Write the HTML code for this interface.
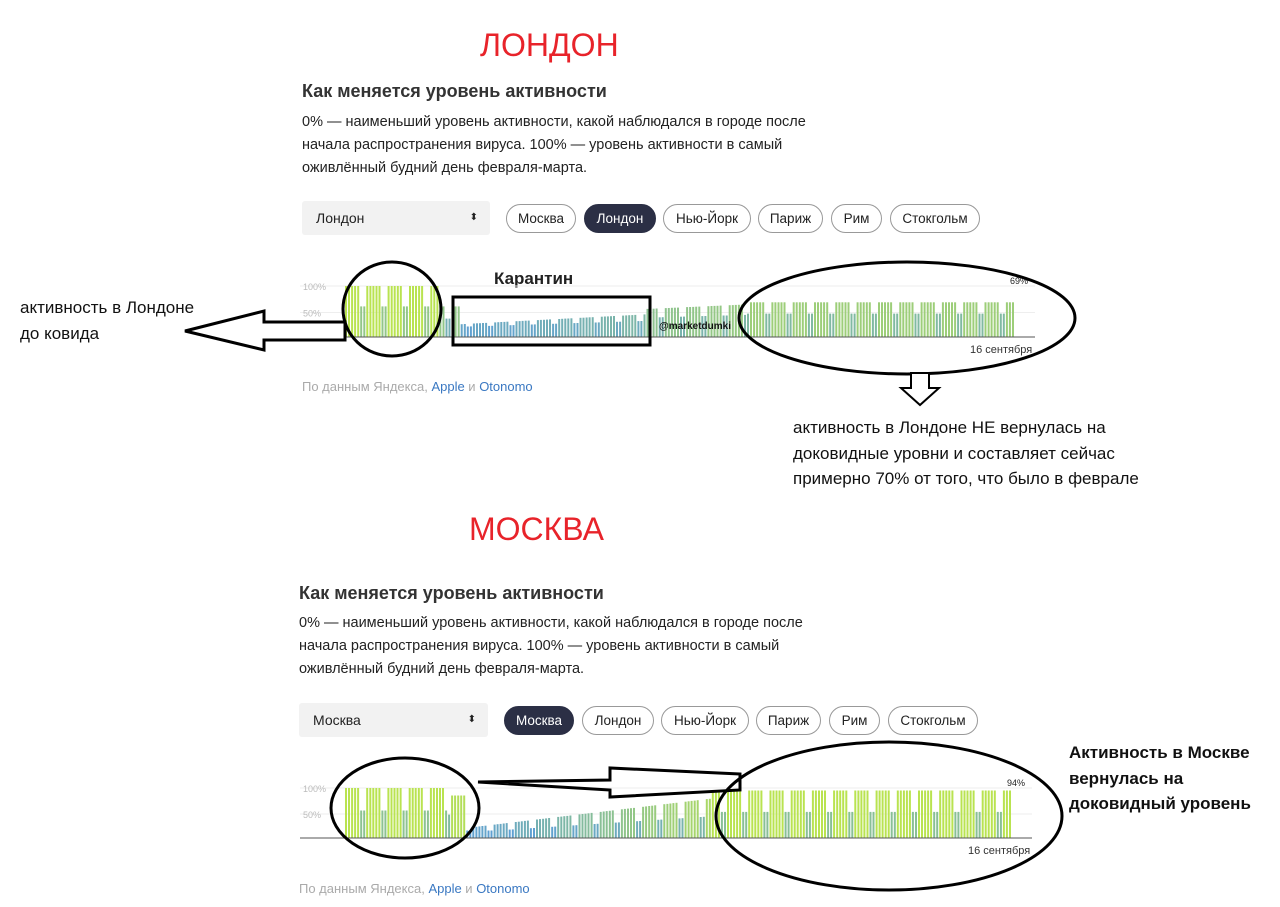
<!DOCTYPE html>
<html><head><meta charset="utf-8"><style>
body{margin:0;width:1280px;height:907px;background:#fff;position:relative;overflow:hidden;font-family:"Liberation Sans","Noto Sans CJK SC",sans-serif;color:#222}
.a{position:absolute;white-space:nowrap}
.red{color:#e8232a;font-size:32px}
.h{font-size:18px;font-weight:bold;color:#333}
.p{font-size:14.5px;line-height:23px;color:#222}
.sel{position:absolute;background:#f2f2f2;border-radius:3px;font-size:14px;padding-left:14px;box-sizing:border-box;line-height:34px}
.pill{position:absolute;border:1px solid #999;border-radius:15px;font-size:13.5px;text-align:center;line-height:27px;box-sizing:border-box;height:29px}
.dk{background:#2b2f45;color:#fff;border-color:#2b2f45}
.note{font-size:17px;line-height:25.5px;color:#111}
.src{font-size:13px;color:#aaa}.src b{font-weight:normal;color:#3a78c2}
</style></head><body>
<div class="a red" style="left:480px;top:27px">ЛОНДОН</div>
<div class="a h" style="left:302px;top:81px">Как меняется уровень активности</div>
<div class="a p" style="left:302px;top:111px">0% — наименьший уровень активности, какой наблюдался в городе после<br>начала распространения вируса. 100% — уровень активности в самый<br>оживлённый будний день февраля-марта.</div>
<div class="sel" style="left:302px;top:201px;width:188px;height:34px">Лондон<span style="position:absolute;right:12px;font-size:10px">⬍</span></div>
<div class="pill" style="left:506px;top:204px;width:70px">Москва</div>
<div class="pill dk" style="left:584px;top:204px;width:72px">Лондон</div>
<div class="pill" style="left:663px;top:204px;width:88px">Нью-Йорк</div>
<div class="pill" style="left:758px;top:204px;width:65px">Париж</div>
<div class="pill" style="left:831px;top:204px;width:51px">Рим</div>
<div class="pill" style="left:890px;top:204px;width:90px">Стокгольм</div>
<div class="a src" style="left:302px;top:379px">По данным Яндекса, <b>Apple</b> и <b>Otonomo</b></div>

<div class="a red" style="left:469px;top:511px">МОСКВА</div>
<div class="a h" style="left:299px;top:583px">Как меняется уровень активности</div>
<div class="a p" style="left:299px;top:612px">0% — наименьший уровень активности, какой наблюдался в городе после<br>начала распространения вируса. 100% — уровень активности в самый<br>оживлённый будний день февраля-марта.</div>
<div class="sel" style="left:299px;top:703px;width:189px;height:34px">Москва<span style="position:absolute;right:12px;font-size:10px">⬍</span></div>
<div class="pill dk" style="left:504px;top:706px;width:70px">Москва</div>
<div class="pill" style="left:582px;top:706px;width:72px">Лондон</div>
<div class="pill" style="left:661px;top:706px;width:88px">Нью-Йорк</div>
<div class="pill" style="left:756px;top:706px;width:65px">Париж</div>
<div class="pill" style="left:829px;top:706px;width:51px">Рим</div>
<div class="pill" style="left:888px;top:706px;width:90px">Стокгольм</div>
<div class="a src" style="left:299px;top:881px">По данным Яндекса, <b>Apple</b> и <b>Otonomo</b></div>

<div class="a note" style="left:20px;top:295px">активность в Лондоне<br>до ковида</div>
<div class="a note" style="left:793px;top:415px">активность в Лондоне НЕ вернулась на<br>доковидные уровни и составляет сейчас<br>примерно 70% от того, что было в феврале</div>
<div class="a note" style="left:1069px;top:740px;font-weight:bold">Активность в Москве<br>вернулась на<br>доковидный уровень</div>
<div class="a" style="left:494px;top:269px;font-size:17px;font-weight:bold">Карантин</div>

<svg id="s" width="1280" height="907" style="position:absolute;left:0;top:0"></svg>
<script>
var s=document.getElementById('s'),h='';
function lerp(a,b,t){return Math.round(a+(b-a)*t)}
function col(v){var t=Math.max(0,Math.min(1,(v-0.2)/0.7));return 'rgb('+lerp(95,185,t)+','+lerp(160,227,t)+','+lerp(210,80,t)+')'}
function chart(x0,base,x1,fn,label,lx,y100){
 h+='<line x1="'+(x0-45)+'" y1="'+y100+'" x2="'+(x1+20)+'" y2="'+y100+'" stroke="#eee"/>';
 h+='<line x1="'+(x0-45)+'" y1="'+((base+y100)/2+1)+'" x2="'+(x1+20)+'" y2="'+((base+y100)/2+1)+'" stroke="#eee"/>';
 h+='<text x="'+(x0-42)+'" y="'+(y100+4)+'" font-size="9" fill="#bbb" font-family="Liberation Sans">100%</text>';
 h+='<text x="'+(x0-42)+'" y="'+((base+y100)/2+5)+'" font-size="9" fill="#bbb" font-family="Liberation Sans">50%</text>';
 var n=220,p=(x1-x0)/n;
 for(var i=0;i<n;i++){var v=fn(i/n,i%7>=5);var H=v*(base-y100);h+='<rect x="'+(x0+i*p).toFixed(1)+'" y="'+(base-H).toFixed(1)+'" width="'+(p*0.65).toFixed(1)+'" height="'+H.toFixed(1)+'" fill="'+col(v)+'"/>';}
 h+='<line x1="'+(x0-45)+'" y1="'+base+'" x2="'+(x1+20)+'" y2="'+base+'" stroke="#555"/>';
 h+='<text x="'+(x1-5)+'" y="'+(y100-2)+'" font-size="9" fill="#222" font-family="Liberation Sans">'+label+'</text>';
 h+='<text x="'+lx+'" y="'+(base+16)+'" font-size="11" fill="#333" font-family="Liberation Sans">16 сентября</text>';
}
chart(345,337,1015,function(t,w){var b;if(t<0.14)b=1;else if(t<0.17)b=0.6;else if(t<0.45)b=0.25+(t-0.17)*0.7;else if(t<0.6)b=0.55+(t-0.45)*0.6;else b=0.68;return w?b*0.6+(t<0.17?0:0.05):b;},'69%',970,286);
chart(345,838,1012,function(t,w){var b;if(t<0.18)b=1-(t>0.15?0.15:0);else if(t<0.55)b=0.2+(t-0.18)*1.6;else b=0.95;return w?Math.max(0.15,b*0.55):b;},'94%',968,788);
h+='<g fill="none" stroke="#000" stroke-width="3">';
h+='<ellipse cx="392" cy="309" rx="49" ry="47"/>';
h+='<rect x="453" y="297" width="197" height="48"/>';
h+='<ellipse cx="907" cy="318" rx="168" ry="56"/>';
h+='<polygon points="345,322 264,322 264,311 185,331 264,350 264,340 345,340" fill="#fff"/>';
h+='<polygon points="911,373 929,373 929,388 939,388 920,405 901,388 911,388" fill="#fff" stroke-width="2"/>';
h+='<ellipse cx="405" cy="808" rx="74" ry="50"/>';
h+='<ellipse cx="889" cy="816" rx="173" ry="74"/>';
h+='<polygon points="740,774 610,768 610,780 478,782 610,790 610,797 740,790" fill="none"/>';
h+='</g>';
h+='<text x="659" y="329" font-size="10" font-weight="bold" fill="#111" font-family="Liberation Sans">@marketdumki</text>';
s.innerHTML=h;
</script>
</body></html>
